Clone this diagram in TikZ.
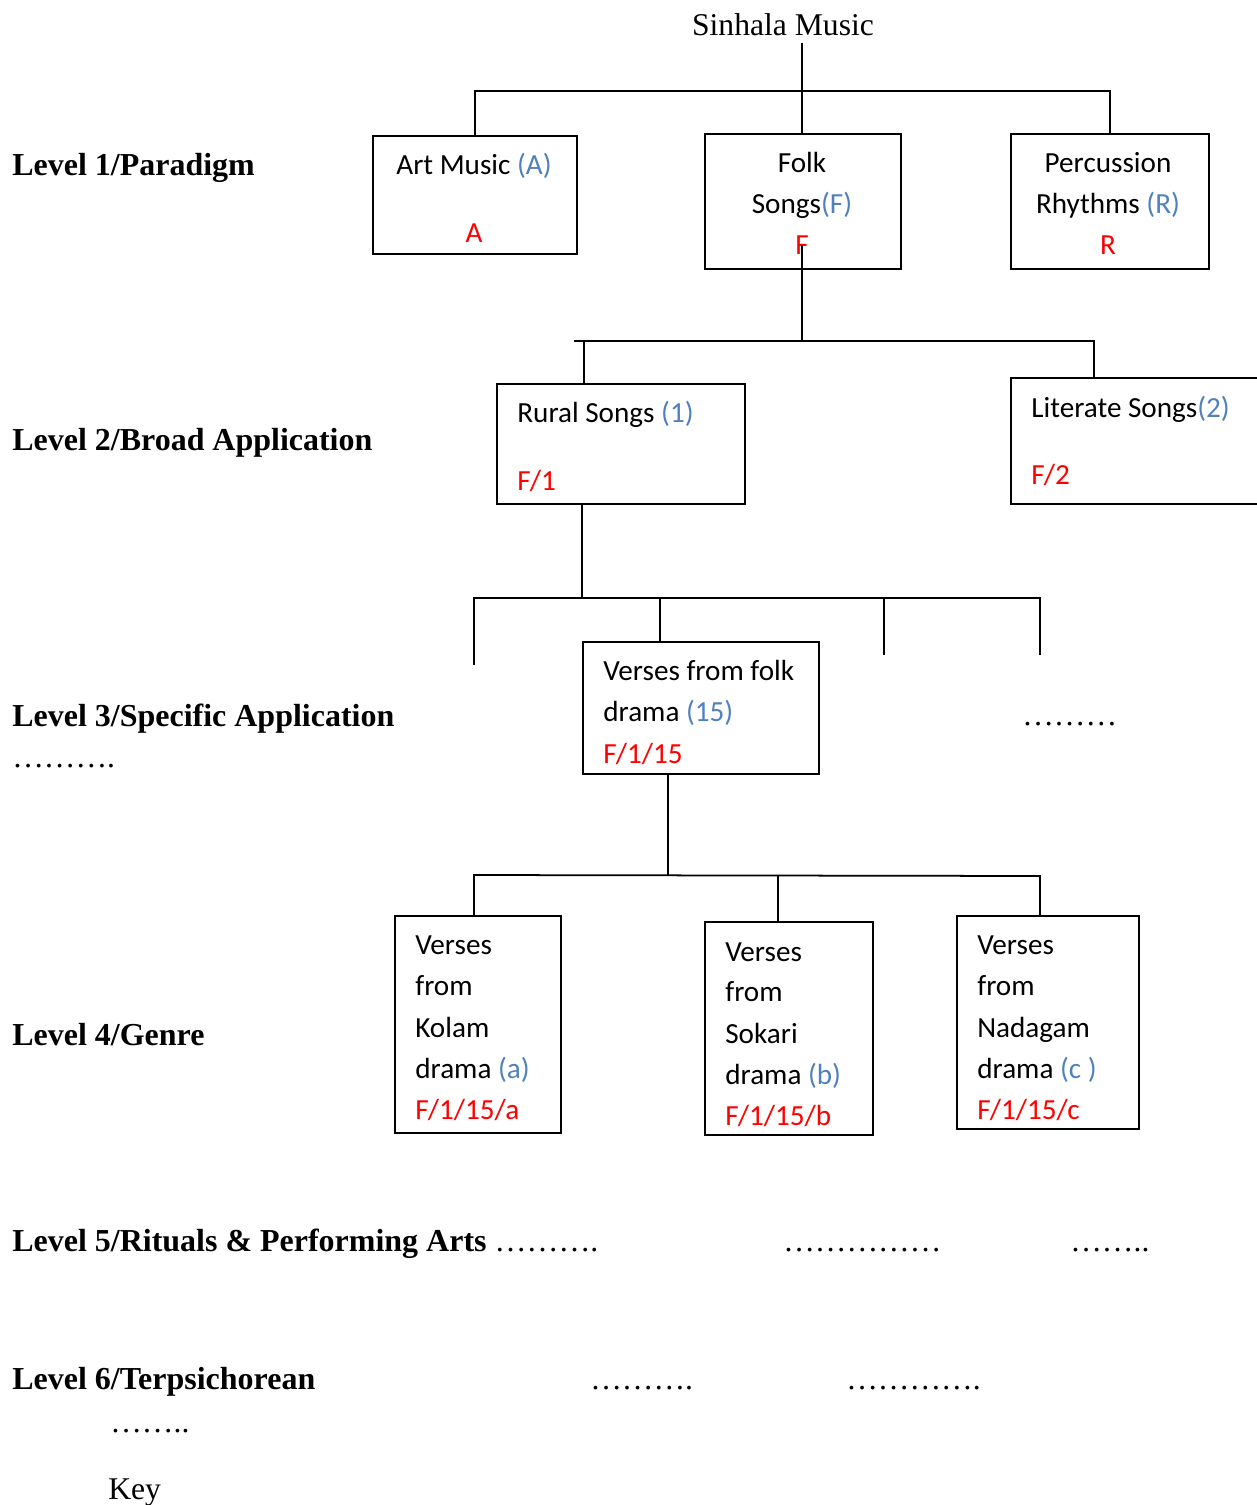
\documentclass[tikz,border=0pt]{standalone}
\usepackage{fontspec}
\setmainfont{Liberation Serif}
\newfontfamily\boxfont{Carlito}
\definecolor{codered}{RGB}{255,0,0}
\definecolor{numblue}{RGB}{79,129,189}

\begin{document}
\begin{tikzpicture}[x=0.02cm,y=-0.02cm,
  box/.style={draw, line width=1.1pt, inner sep=0pt, anchor=north west},
  boxwh/.style 2 args={minimum width=#1*0.02cm, minimum height=#2*0.02cm},
  link/.style={line width=1pt},
  txt/.style={inner sep=0pt, yshift=-0.03cm, font=\boxfont\fontsize{16.6}{20}\selectfont},
  ltxt/.style={txt, anchor=base west},
  ctxt/.style={txt, anchor=base},
  level/.style={inner sep=0pt, yshift=-0.04cm, anchor=base west, font=\fontsize{18.2}{22}\selectfont\bfseries},
  dots/.style={inner sep=0pt, yshift=-0.04cm, anchor=base west, font=\fontsize{18}{22}\selectfont},
]
\useasboundingbox (0,0) rectangle (1257,1505);
\clip (0,0) rectangle (1257,1505);

% root title
\node[inner sep=0pt, yshift=-0.04cm, anchor=base, font=\fontsize{18}{22}\selectfont] (sm) at (783,33) {Sinhala Music};

% boxes
\node[box, boxwh={204}{118}] (art) at (372,135) {};
\node[box, boxwh={196}{135}] (folk) at (704,133) {};
\node[box, boxwh={198}{135}] (perc) at (1010,133) {};
\node[box, boxwh={248}{120}] (rural) at (496,383) {};
\node[box, boxwh={275}{126}] (lit) at (1010,377) {};
\node[box, boxwh={236}{132}] (vfolk) at (582,641) {};
\node[box, boxwh={166}{217}] (kolam) at (394,915) {};
\node[box, boxwh={168}{213}] (sokari) at (704,921) {};
\node[box, boxwh={182}{213}] (nadagam) at (956,915) {};

% level 1 texts
\node[ctxt] (artname) at (474,173) {Art Music \textcolor{numblue}{(A)}};
\node[ctxt, text=codered] (artcode) at (474,241) {A};
\node[ctxt] (folkname1) at (802,171) {Folk};
\node[ctxt] (folkname2) at (802,212) {Songs\textcolor{numblue}{(F)}};
\node[ctxt, text=codered] (folkcode) at (802,253) {F};
\node[ctxt] (percname1) at (1108,171) {Percussion};
\node[ctxt] (percname2) at (1108,212) {Rhythms \textcolor{numblue}{(R)}};
\node[ctxt, text=codered] (perccode) at (1108,253) {R};

% level 2 texts
\node[ltxt] (ruralname) at (517,421) {Rural Songs \textcolor{numblue}{(1)}};
\node[ltxt, text=codered] (ruralcode) at (517,489) {F/1};
\node[ltxt] (litname) at (1031,416) {Literate Songs\textcolor{numblue}{(2)}};
\node[ltxt, text=codered] (litcode) at (1031,483) {F/2};

% level 3 texts
\node[ltxt] (vf1) at (603,679) {Verses from folk};
\node[ltxt] (vf2) at (603,720) {drama \textcolor{numblue}{(15)}};
\node[ltxt, text=codered] (vfcode) at (603,762) {F/1/15};

% level 4 texts
\node[ltxt] (ko1) at (415,953) {Verses};
\node[ltxt] (ko2) at (415,994) {from};
\node[ltxt] (ko3) at (415,1036) {Kolam};
\node[ltxt] (ko4) at (415,1077) {drama \textcolor{numblue}{(a)}};
\node[ltxt, text=codered] (kocode) at (415,1118) {F/1/15/a};
\node[ltxt] (so1) at (725,960) {Verses};
\node[ltxt] (so2) at (725,1000) {from};
\node[ltxt] (so3) at (725,1042) {Sokari};
\node[ltxt] (so4) at (725,1083) {drama \textcolor{numblue}{(b)}};
\node[ltxt, text=codered] (socode) at (725,1124) {F/1/15/b};
\node[ltxt] (na1) at (977,953) {Verses};
\node[ltxt] (na2) at (977,994) {from};
\node[ltxt] (na3) at (977,1036) {Nadagam};
\node[ltxt] (na4) at (977,1077) {drama \textcolor{numblue}{(c )}};
\node[ltxt, text=codered] (nacode) at (977,1118) {F/1/15/c};

% connectors: root to level 1
\coordinate (stem1) at (802,43);
\coordinate (bar1) at (0,91);
\draw[link] (stem1) -- (stem1 |- folk.north);
\draw[link] (art.north) |- (perc.north |- bar1) -- (perc.north);

% folk songs to level 2
\coordinate (bar2L) at (574,341);
\coordinate (bar2R) at (1094,341);
\coordinate (ruralin) at (584,341);
\draw[link] (folkcode.center) -- (folkcode.center |- bar2L);
\draw[link] (bar2L) -- (bar2R) -- (bar2R |- lit.north);
\draw[link] (ruralin) -- (ruralin |- rural.north);

% rural songs to level 3
\coordinate (ruralout) at (582,598);
\coordinate (open1) at (474,665);
\coordinate (bar3R) at (1040,598);
\coordinate (open3) at (884,655);
\coordinate (open4) at (1040,655);
\coordinate (vfin) at (660,598);
\draw[link] (ruralout |- rural.south) -- (ruralout);
\draw[link] (open1) |- (bar3R) -- (open4);
\draw[link] (open3 |- bar3R) -- (open3);
\draw[link] (vfin) -- (vfin |- vfolk.north);

% folk drama verses to level 4
\coordinate (vfout) at (668,875);
\coordinate (bar4L) at (474,875);
\coordinate (bar4R) at (1040,876);
\coordinate (sokin) at (778,876);
\draw[link] (vfout |- vfolk.south) -- (vfout);
\draw[link] (bar4L |- kolam.north) -- (bar4L) -- (bar4R) -- (bar4R |- nadagam.north);
\draw[link] (sokin) -- (sokin |- sokari.north);

% level labels
\node[level] (lv1) at (12,173) {Level 1/Paradigm};
\node[level] (lv2) at (12,448) {Level 2/Broad Application};
\node[level] (lv3) at (12,724) {Level 3/Specific Application};
\node[level] (lv4) at (12,1043) {Level 4/Genre};
\node[level] (lv5) at (12,1249) {Level 5/Rituals \& Performing Arts {\mdseries ……….}};
\node[level] (lv6) at (12,1387) {Level 6/Terpsichorean};

% placeholder dots
\node[dots] (lv3dots) at (12,765) {……….};
\node[dots] (vfdots) at (1022,723) {………};
\node[dots] (lv5dots2) at (783,1249) {……………};
\node[dots] (lv5dots3) at (1070,1249) {……..};
\node[dots] (lv6dots1) at (590,1387) {……….};
\node[dots] (lv6dots2) at (846,1387) {………….};
\node[dots] (lv6dots3) at (110,1430) {……..};
\node[dots] (key) at (108,1497) {Key};
\end{tikzpicture}
\end{document}
